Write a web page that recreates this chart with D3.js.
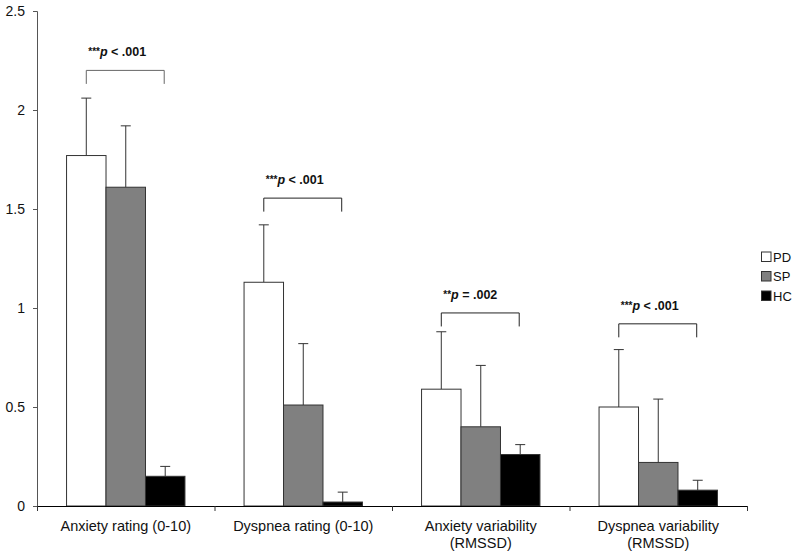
<!DOCTYPE html>
<html>
<head>
<meta charset="utf-8">
<script src="https://cdn.jsdelivr.net/npm/d3@7"></script>
<style>
    body { margin: 0; background: #ffffff; }
    svg { display: block; font-family: Arial, "Liberation Sans", sans-serif; }
</style>
</head>
<body>
<div id="chart"></div>
<script>

// =====================================================================================================================
// DATA
// =====================================================================================================================

var categories = [
    ["Anxiety rating (0-10)"],
    ["Dyspnea rating (0-10)"],
    ["Anxiety variability", "(RMSSD)"],
    ["Dyspnea variability", "(RMSSD)"]
];
var seriesNames = ["PD", "SP", "HC"];

var pdValues = [1.77, 1.13, 0.59, 0.50];
var pdErrors = [0.29, 0.29, 0.29, 0.29];
var spValues = [1.61, 0.51, 0.40, 0.22];
var spErrors = [0.31, 0.31, 0.31, 0.32];
var hcValues = [0.15, 0.02, 0.26, 0.08];
var hcErrors = [0.05, 0.05, 0.05, 0.05];

var yTicks = [0, 0.5, 1, 1.5, 2, 2.5];

// significance brackets
var pStars = ["***", "***", "**", "***"];
var pTexts = [" < .001", " < .001", " = .002", " < .001"];
var bracketLevels = [2.20, 1.555, 0.975, 0.92];

// =====================================================================================================================
// SETUP
// =====================================================================================================================

var W = 800, H = 557;
// note: "top" is taken by window.top, so plot edges get their own names
var plotLeft = 37, plotRight = 747, plotTop = 11, plotBottom = 506;

var colors = {PD: "#ffffff", SP: "#808080", HC: "#000000"};
var values = {PD: pdValues, SP: spValues, HC: hcValues};
var errors = {PD: pdErrors, SP: spErrors, HC: hcErrors};

var catKeys = categories.map(function(d, i) { return "c" + i; });

var svg = d3.select("#chart").append("svg")
    .attr("width", W)
    .attr("height", H);

var x0 = d3.scaleBand()
    .domain(catKeys)
    .range([plotLeft, plotRight])
    .paddingInner(0.333)
    .paddingOuter(0.1665);

var x1 = d3.scaleBand()
    .domain(seriesNames)
    .range([0, x0.bandwidth()]);

// used only for the ticks between the groups
var xb = d3.scaleLinear()
    .domain([0, categories.length])
    .range([plotLeft, plotRight]);

var y = d3.scaleLinear()
    .domain([0, 2.5])
    .range([plotBottom, plotTop]);

// =====================================================================================================================
// BARS
// =====================================================================================================================

var rows = [];
catKeys.forEach(function(c, i) {
    seriesNames.forEach(function(s) {
        rows.push({cat: c, series: s, value: values[s][i], err: errors[s][i]});
    });
});

function barMid(d) { return x0(d.cat) + x1(d.series) + x1.bandwidth() / 2; }

// error bars first, bars drawn over them
var errG = svg.append("g")
    .attr("stroke", "#333")
    .attr("stroke-width", 1);

errG.selectAll(".err")
    .data(rows)
    .enter().append("line")
    .attr("x1", barMid)
    .attr("x2", barMid)
    .attr("y1", function(d) { return y(d.value); })
    .attr("y2", function(d) { return y(d.value + d.err); });

errG.selectAll(".cap")
    .data(rows)
    .enter().append("line")
    .attr("x1", function(d) { return barMid(d) - 5; })
    .attr("x2", function(d) { return barMid(d) + 5; })
    .attr("y1", function(d) { return y(d.value + d.err); })
    .attr("y2", function(d) { return y(d.value + d.err); });

svg.selectAll(".bar")
    .data(rows)
    .enter().append("rect")
    .attr("class", "bar")
    .attr("x", function(d) { return x0(d.cat) + x1(d.series); })
    .attr("y", function(d) { return y(d.value); })
    .attr("width", x1.bandwidth())
    .attr("height", function(d) { return y(0) - y(d.value); })
    .attr("fill", function(d) { return colors[d.series]; })
    .attr("stroke", "#333")
    .attr("stroke-width", 1);

// =====================================================================================================================
// AXES
// =====================================================================================================================

var yAxis = svg.append("g")
    .attr("transform", "translate(" + plotLeft + ",0)")
    .call(d3.axisLeft(y)
        .tickValues(yTicks)
        .tickSize(4)
        .tickPadding(8)
        .tickFormat(function(d) { return String(d); }));

yAxis.select(".domain").attr("stroke", "#555");
yAxis.selectAll(".tick line").attr("stroke", "#555");
yAxis.selectAll(".tick text")
    .attr("font-size", "14px")
    .attr("fill", "#111");

var xAxis = svg.append("g")
    .attr("transform", "translate(0," + plotBottom + ")")
    .call(d3.axisBottom(xb)
        .tickValues(d3.range(categories.length + 1))
        .tickSizeInner(5)
        .tickSizeOuter(0)
        .tickFormat(""));

xAxis.select(".domain").attr("stroke", "#000");
xAxis.selectAll(".tick line").attr("stroke", "#333");

// category labels, one or two lines
var labels = svg.selectAll(".xlabel")
    .data(categories)
    .enter().append("text")
    .attr("class", "xlabel")
    .attr("text-anchor", "middle")
    .attr("font-size", "14.5px")
    .attr("fill", "#111")
    .attr("transform", function(d, i) {
        return "translate(" + (x0(catKeys[i]) + x0.bandwidth() / 2) + ",531)";
    });

labels.selectAll("tspan")
    .data(function(d) { return d; })
    .enter().append("tspan")
    .attr("x", 0)
    .attr("dy", function(d, i) { return i === 0 ? 0 : 17; })
    .text(function(d) { return d; });

// =====================================================================================================================
// SIGNIFICANCE BRACKETS
// =====================================================================================================================

var brG = svg.append("g");

catKeys.forEach(function(c, i) {
    var xl = x0(c) + x1("PD") + x1.bandwidth() / 2;
    var xr = x0(c) + x1("HC") + x1.bandwidth() / 2 - 1;
    var yl = y(bracketLevels[i]);

    brG.append("path")
        .attr("d", "M" + xl + "," + (yl + 13.5) + "V" + yl + "H" + xr + "V" + (yl + 13.5))
        .attr("fill", "none")
        .attr("stroke", i === 0 ? "#666" : "#222")
        .attr("stroke-width", 1);

    var t = brG.append("text")
        .attr("x", xl + 2)
        .attr("y", yl - 14)
        .attr("font-size", "12.5px")
        .attr("font-weight", "bold")
        .attr("fill", "#111");

    t.append("tspan").attr("font-size", "10px").attr("dy", -1).text(pStars[i]);
    t.append("tspan").attr("font-style", "italic").attr("dy", 1).text("p");
    t.append("tspan").attr("xml:space", "preserve").text(pTexts[i]);
});

// =====================================================================================================================
// LEGEND
// =====================================================================================================================

var legend = svg.selectAll(".legend")
    .data(seriesNames)
    .enter().append("g")
    .attr("class", "legend")
    .attr("transform", function(d, i) { return "translate(761.5," + (252 + i * 19.5) + ")"; });

legend.append("rect")
    .attr("width", 9.5)
    .attr("height", 9.5)
    .attr("fill", function(d) { return colors[d]; })
    .attr("stroke", "#333")
    .attr("stroke-width", 1);

legend.append("text")
    .attr("x", 11.5)
    .attr("y", 9.8)
    .attr("font-size", "13px")
    .attr("fill", "#111")
    .text(function(d) { return d; });

</script>
</body>
</html>
